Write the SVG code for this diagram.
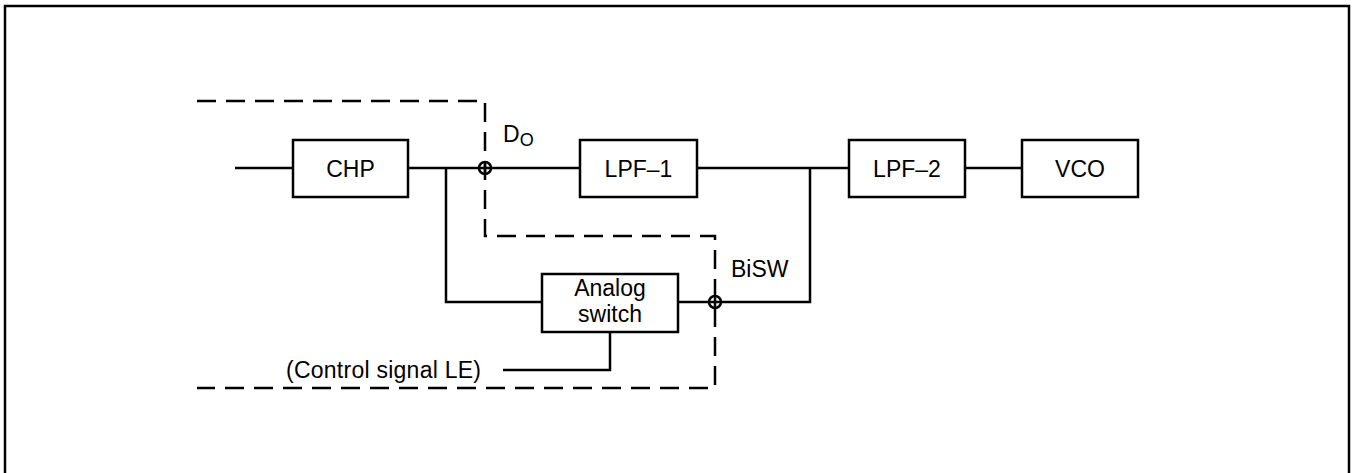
<svg xmlns="http://www.w3.org/2000/svg" width="1352" height="473" viewBox="0 0 1352 473">
<style>
.box{fill:#fff;stroke:#000;stroke-width:2.5}
.ln{fill:none;stroke:#000;stroke-width:2.5}
.dash{fill:none;stroke:#000;stroke-width:2.5;stroke-dasharray:19 10}
text{font-family:"Liberation Sans",Arial,sans-serif;font-size:23px;fill:#000}
.c{text-anchor:middle}
</style>
<rect x="0" y="0" width="1352" height="473" fill="#fff"/>
<rect x="5" y="6" width="1344" height="490" fill="none" stroke="#000" stroke-width="2.5"/>
<g id="connectors">
<path class="ln" d="M235,168H293 M408,168H580 M697,168H849 M965,168H1022"/>
<path class="ln" d="M446,168V302H542 M678,302H810V168"/>
<path class="ln" d="M610,332V370H503"/>
<path class="dash" d="M197,101H485V236H715V388H197"/>
<circle cx="485" cy="168" r="6" class="ln"/>
<path class="ln" d="M485,162V174"/>
<circle cx="715" cy="302" r="6" class="ln"/>
<path class="ln" d="M715,296V308"/>
</g>
<g id="chp"><rect class="box" x="293" y="140" width="115" height="57"/><text class="c" x="350.5" y="177">CHP</text></g>
<g id="lpf1"><rect class="box" x="580" y="140" width="117" height="57"/><text class="c" x="638.5" y="177">LPF–1</text></g>
<g id="lpf2"><rect class="box" x="849" y="140" width="116" height="57"/><text class="c" x="907" y="177">LPF–2</text></g>
<g id="vco"><rect class="box" x="1022" y="140" width="116" height="57"/><text class="c" x="1080" y="177">VCO</text></g>
<g id="analog"><rect class="box" x="542" y="274" width="136" height="58"/><text class="c" x="610" y="296">Analog</text><text class="c" x="610" y="322">switch</text></g>
<g id="labels">
<text x="503" y="142">D<tspan font-size="18" dy="4">O</tspan></text>
<text x="731" y="277">BiSW</text>
<text x="286" y="378" textLength="195">(Control signal LE)</text>
</g>
</svg>
